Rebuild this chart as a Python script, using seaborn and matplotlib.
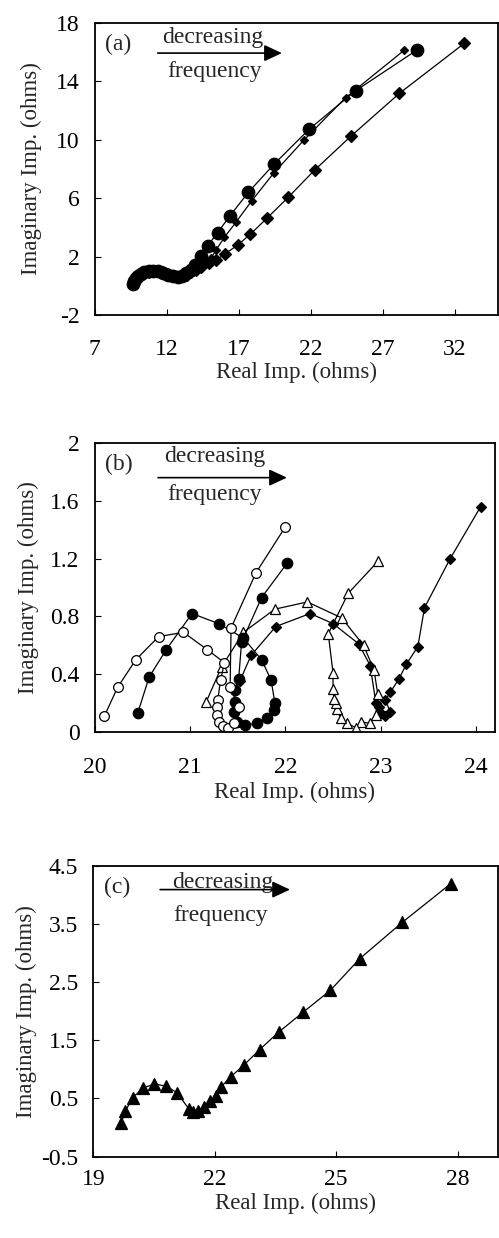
import numpy as np
import pandas as pd
import matplotlib
matplotlib.use("Agg")
import matplotlib.pyplot as plt
import seaborn as sns

sns.set_style("ticks")
plt.rcParams['font.family'] = ['Liberation Serif', 'DejaVu Serif']
plt.rcParams['axes.unicode_minus'] = False

# ---------------- Panel (a) data ----------------
a_circ_x = [9.65, 9.72, 9.85, 10.0, 10.2, 10.45, 10.75, 11.05, 11.4, 11.75, 12.1, 12.45, 12.75,
            13.05, 13.35, 13.65, 13.95, 14.38, 14.84, 15.53, 16.39, 17.66, 19.46, 21.88, 25.11, 29.37]
a_circ_y = [0.10, 0.30, 0.50, 0.68, 0.82, 0.93, 1.00, 1.02, 0.98, 0.88, 0.75, 0.65, 0.62,
            0.70, 0.88, 1.10, 1.40, 2.06, 2.75, 3.64, 4.80, 6.40, 8.34, 10.72, 13.36, 16.15]
a_sdia_x = [9.70, 9.80, 9.95, 10.15, 10.4, 10.7, 11.0, 11.35, 11.7, 12.05, 12.4, 12.75, 13.05,
            13.35, 13.65, 13.95, 14.3, 14.7, 15.07, 15.42, 16.0, 16.8, 17.89, 19.41, 21.53, 24.41, 28.5]
a_sdia_y = [0.15, 0.35, 0.55, 0.72, 0.86, 0.96, 1.02, 1.02, 0.95, 0.84, 0.72, 0.64, 0.64,
            0.74, 0.92, 1.12, 1.35, 1.60, 1.88, 2.45, 3.32, 4.35, 5.81, 7.70, 9.99, 12.88, 16.15]
a_ldia_x = [9.75, 9.85, 10.0, 10.2, 10.45, 10.75, 11.05, 11.4, 11.75, 12.1, 12.45, 12.8, 13.1,
            13.4, 13.7, 14.0, 14.35, 14.9, 15.42, 16.04, 16.92, 17.8, 18.95, 20.43, 22.27, 24.8, 28.15, 32.65]
a_ldia_y = [0.18, 0.38, 0.58, 0.75, 0.88, 0.97, 1.02, 1.0, 0.92, 0.80, 0.68, 0.62, 0.64,
            0.75, 0.92, 1.10, 1.30, 1.55, 1.77, 2.18, 2.79, 3.53, 4.62, 6.06, 7.93, 10.26, 13.18, 16.6]

# ---------------- Panel (b) data ----------------
b_ocirc_x = [20.10, 20.24, 20.43, 20.67, 20.93, 21.18, 21.36, 21.32, 21.29, 21.28, 21.28, 21.30,
             21.35, 21.40, 21.46, 21.51, 21.42, 21.43, 21.69, 22.00]
b_ocirc_y = [0.11, 0.31, 0.50, 0.66, 0.69, 0.57, 0.48, 0.36, 0.22, 0.17, 0.12, 0.07,
             0.04, 0.025, 0.06, 0.17, 0.31, 0.72, 1.10, 1.42]
b_fcirc_x = [20.45, 20.57, 20.75, 21.02, 21.30, 21.56, 21.75, 21.85, 21.89, 21.88, 21.81, 21.70,
             21.58, 21.49, 21.46, 21.47, 21.47, 21.51, 21.54, 21.75, 22.02]
b_fcirc_y = [0.13, 0.38, 0.57, 0.82, 0.75, 0.65, 0.50, 0.36, 0.20, 0.15, 0.095, 0.06,
             0.05, 0.07, 0.14, 0.21, 0.29, 0.37, 0.62, 0.93, 1.17]
b_otri_x = [21.17, 21.33, 21.56, 21.89, 22.23, 22.59, 22.82, 22.93, 22.97, 22.95, 22.89, 22.79,
            22.74, 22.65, 22.58, 22.54, 22.53, 22.51, 22.50, 22.50, 22.45, 22.66, 22.97]
b_otri_y = [0.21, 0.45, 0.69, 0.85, 0.90, 0.79, 0.60, 0.43, 0.26, 0.12, 0.06, 0.07,
            0.03, 0.06, 0.095, 0.16, 0.20, 0.23, 0.30, 0.41, 0.68, 0.96, 1.18]
b_fdia_x = [21.52, 21.64, 21.90, 22.26, 22.50, 22.77, 22.89, 22.95, 22.98, 23.00, 23.05, 23.10,
            23.05, 23.10, 23.19, 23.27, 23.39, 23.46, 23.73, 24.05]
b_fdia_y = [0.35, 0.53, 0.73, 0.82, 0.75, 0.61, 0.46, 0.20, 0.175, 0.13, 0.11, 0.14,
            0.22, 0.275, 0.365, 0.47, 0.59, 0.86, 1.20, 1.56]

# ---------------- Panel (c) data ----------------
c_tri_x = [19.69, 19.79, 19.97, 20.23, 20.51, 20.80, 21.07, 21.36, 21.46, 21.58, 21.73, 21.88,
           22.02, 22.16, 22.39, 22.73, 23.11, 23.58, 24.18, 24.86, 25.58, 26.64, 27.83]
c_tri_y = [0.08, 0.28, 0.51, 0.68, 0.75, 0.71, 0.60, 0.32, 0.26, 0.28, 0.36, 0.45,
           0.54, 0.70, 0.87, 1.08, 1.34, 1.64, 1.98, 2.36, 2.90, 3.53, 4.19]

# ticks / labels
a_xticks = [7, 12, 17, 22, 27, 32]
a_yticks = [-2, 2, 6, 10, 14, 18]
b_xticks = [20, 21, 22, 23, 24]
b_yticks = [0, 0.4, 0.8, 1.2, 1.6, 2]
b_yticklabels = ["0", "0.4", "0.8", "1.2", "1.6", "2"]
c_xticks = [19, 22, 25, 28]
c_yticks = [-0.5, 0.5, 1.5, 2.5, 3.5, 4.5]
xlabel = "Real Imp. (ohms)"
ylabel = "Imaginary Imp. (ohms)"

fig = plt.figure(figsize=(4.99, 12.38), dpi=100)
ax_a = fig.add_axes([0.190, 0.7456, 0.808, 0.2358])
ax_b = fig.add_axes([0.190, 0.4087, 0.802, 0.2335])
ax_c = fig.add_axes([0.187, 0.0657, 0.811, 0.2350])

def series(ax, x, y, marker, ms, filled=True):
    df = pd.DataFrame({"x": x, "y": y})
    sns.lineplot(data=df, x="x", y="y", ax=ax, sort=False, estimator=None,
                 color="black", linewidth=0.9, marker=marker, markersize=ms,
                 markerfacecolor="black" if filled else "white",
                 markeredgecolor="black", markeredgewidth=0.9)

# panel a
series(ax_a, a_ldia_x, a_ldia_y, "D", 6)
series(ax_a, a_sdia_x, a_sdia_y, "D", 4)
series(ax_a, a_circ_x, a_circ_y, "o", 9)
# panel b
series(ax_b, b_fdia_x, b_fdia_y, "D", 5.5)
series(ax_b, b_otri_x, b_otri_y, "^", 7, filled=False)
series(ax_b, b_fcirc_x, b_fcirc_y, "o", 7.5)
series(ax_b, b_ocirc_x, b_ocirc_y, "o", 7, filled=False)
# panel c
series(ax_c, c_tri_x, c_tri_y, "^", 8.5)

def style(ax, xlim, ylim, xt, yt, xpad, xlab_y, ylab_x, ytl=None):
    ax.set_xlim(*xlim)
    ax.set_ylim(*ylim)
    ax.set_xticks(xt)
    ax.set_yticks(yt)
    if ytl is not None:
        ax.set_yticklabels(ytl)
    ax.tick_params(direction="in", length=4, width=0.8, labelsize=17, colors="black")
    ax.tick_params(axis="x", pad=xpad)
    ax.tick_params(axis="y", pad=11)
    for s in ax.spines.values():
        s.set_visible(True)
        s.set_linewidth(1.3)
        s.set_color("black")
    ax.set_xlabel(xlabel, fontsize=16.5)
    ax.set_ylabel(ylabel, fontsize=16.5)
    ax.xaxis.set_label_coords(0.5, xlab_y)
    ax.yaxis.set_label_coords(ylab_x, 0.5)

style(ax_a, (7, 35), (-2, 18), a_xticks, a_yticks, 17, -0.160, -0.132)
style(ax_b, (20, 24.2), (0, 2), b_xticks, b_yticks, 18, -0.172, -0.140, b_yticklabels)
style(ax_c, (19, 29), (-0.5, 4.5), c_xticks, c_yticks, 9, -0.124, -0.140)

def annot(ax, lab, labpos, decpos, arr, freqpos):
    ax.text(*labpos, lab, transform=ax.transAxes, fontsize=17, ha="center", va="center")
    ax.text(*decpos, "decreasing", transform=ax.transAxes, fontsize=17, ha="center", va="center")
    ax.text(*freqpos, "frequency", transform=ax.transAxes, fontsize=17, ha="center", va="center")
    ax.annotate("", xy=(arr[1], arr[2]), xytext=(arr[0], arr[2]), xycoords="axes fraction",
                arrowprops=dict(arrowstyle="-|>,head_length=0.6,head_width=0.28",
                                mutation_scale=18, color="black", lw=1.2,
                                shrinkA=0, shrinkB=0))

annot(ax_a, "(a)", (0.057, 0.925), (0.293, 0.952), (0.156, 0.464, 0.897), (0.298, 0.833))
annot(ax_b, "(b)", (0.060, 0.925), (0.300, 0.952), (0.158, 0.480, 0.880), (0.298, 0.823))
annot(ax_c, "(c)", (0.059, 0.925), (0.320, 0.942), (0.165, 0.486, 0.918), (0.314, 0.830))

fig.savefig("out.png", dpi=100)
